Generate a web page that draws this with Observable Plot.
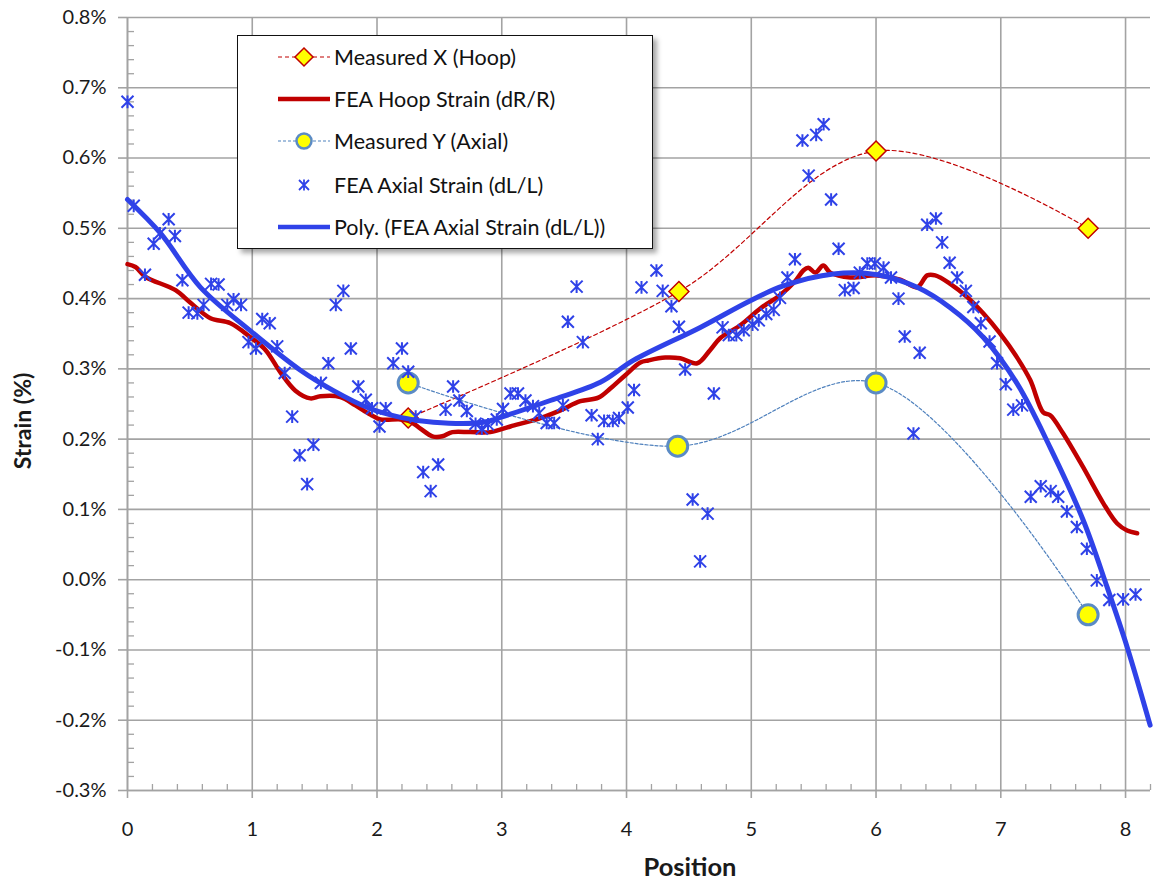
<!DOCTYPE html>
<html>
<head>
<meta charset="utf-8">
<script src="https://cdn.jsdelivr.net/npm/d3@7"></script>
<script src="https://cdn.jsdelivr.net/npm/@observablehq/plot@0.6"></script>
<style>
  body { margin: 0; background: #fff; }
  #wrap { position: relative; width: 1162px; height: 887px; font-family: Lato, "Open Sans", sans-serif; }
  #legend { position: absolute; left: 237px; top: 35px; width: 416px; height: 214px; box-sizing: border-box;
    border: 1.5px solid #111; background: #fff; box-shadow: 4px 4px 5px rgba(0,0,0,0.35); }
  .row { position: absolute; left: 0; height: 30px; display: flex; align-items: center; }
  .row svg { margin-left: 40px; }
  .row span { margin-left: 4px; font-size: 21.5px; color: #111; white-space: nowrap; }
  #ytitle { position: absolute; left: 22px; top: 421px; transform: translate(-50%, -50%) rotate(-90deg);
    font-weight: bold; font-size: 23px; color: #1a1a1a; white-space: nowrap; }
</style>
</head>
<body>
<div id="wrap"></div>
<script>
// Measured points
const hoopMeasX = [2.25, 4.42, 6.0, 7.7];
const hoopMeasY = [0.23, 0.41, 0.61, 0.50];
const axialMeasX = [2.25, 4.41, 6.0, 7.7];
const axialMeasY = [0.28, 0.19, 0.28, -0.05];

// FEA hoop strain line
const hoopX = [0, 0.064, 0.144, 0.385, 0.505, 0.665, 0.825, 0.986, 1.106, 1.226, 1.346, 1.466, 1.546, 1.707, 1.827, 1.947, 2.027, 2.188, 2.268, 2.348, 2.444, 2.524, 2.604, 2.748, 2.909, 3.069, 3.309, 3.470, 3.630, 3.774, 3.870, 3.990, 4.111, 4.175, 4.311, 4.431, 4.567, 4.671, 4.752, 4.912, 5.072, 5.232, 5.353, 5.417, 5.457, 5.513, 5.577, 5.633, 5.793, 6.010, 6.194, 6.330, 6.410, 6.474, 6.595, 6.731, 6.859, 6.995, 7.131, 7.236, 7.340, 7.396, 7.500, 7.660, 7.821, 7.933, 8.013, 8.093];
const hoopY = [0.449, 0.445, 0.431, 0.412, 0.394, 0.372, 0.365, 0.345, 0.327, 0.295, 0.269, 0.258, 0.261, 0.260, 0.248, 0.235, 0.228, 0.228, 0.225, 0.215, 0.204, 0.204, 0.210, 0.210, 0.210, 0.218, 0.230, 0.241, 0.254, 0.259, 0.272, 0.291, 0.309, 0.312, 0.316, 0.315, 0.308, 0.327, 0.344, 0.362, 0.386, 0.405, 0.425, 0.440, 0.444, 0.437, 0.447, 0.437, 0.430, 0.433, 0.427, 0.416, 0.433, 0.433, 0.421, 0.402, 0.379, 0.350, 0.316, 0.284, 0.238, 0.234, 0.208, 0.160, 0.109, 0.080, 0.070, 0.066];

// Polynomial trend of FEA axial strain
const polyX = [0, 0.264, 0.585, 0.986, 1.386, 1.651, 1.923, 2.188, 2.452, 2.853, 2.989, 3.389, 3.790, 4.054, 4.591, 4.992, 5.256, 5.657, 6.010, 6.330, 6.595, 6.859, 7.131, 7.396, 7.660, 7.853, 8.013, 8.197];
const polyY = [0.541, 0.493, 0.416, 0.354, 0.298, 0.269, 0.245, 0.231, 0.224, 0.224, 0.231, 0.255, 0.281, 0.312, 0.359, 0.397, 0.418, 0.435, 0.434, 0.416, 0.387, 0.345, 0.279, 0.188, 0.085, -0.011, -0.096, -0.207];

// FEA axial strain scatter
const axialX = [0.00, 0.05, 0.14, 0.21, 0.26, 0.33, 0.38, 0.44, 0.49, 0.56, 0.61, 0.67, 0.73, 0.80, 0.85, 0.91, 0.97, 1.03, 1.08, 1.14, 1.20, 1.26, 1.32, 1.38, 1.44, 1.49, 1.55, 1.61, 1.67, 1.73, 1.79, 1.85, 1.91, 1.96, 2.02, 2.07, 2.13, 2.20, 2.25, 2.31, 2.37, 2.43, 2.49, 2.55, 2.61, 2.66, 2.72, 2.79, 2.84, 2.89, 2.96, 3.01, 3.07, 3.13, 3.19, 3.25, 3.30, 3.36, 3.42, 3.49, 3.53, 3.60, 3.65, 3.72, 3.77, 3.82, 3.89, 3.94, 4.01, 4.06, 4.12, 4.24, 4.29, 4.36, 4.42, 4.47, 4.53, 4.59, 4.65, 4.70, 4.77, 4.82, 4.88, 4.94, 5.01, 5.06, 5.12, 5.18, 5.23, 5.29, 5.35, 5.41, 5.46, 5.52, 5.58, 5.64, 5.70, 5.75, 5.82, 5.87, 5.93, 5.99, 6.06, 6.12, 6.18, 6.23, 6.30, 6.35, 6.41, 6.48, 6.53, 6.59, 6.65, 6.72, 6.78, 6.84, 6.91, 6.97, 7.04, 7.10, 7.17, 7.24, 7.32, 7.40, 7.46, 7.53, 7.61, 7.69, 7.77, 7.87, 7.98, 8.08];
const axialY = [0.680, 0.532, 0.434, 0.478, 0.493, 0.513, 0.489, 0.426, 0.380, 0.379, 0.391, 0.421, 0.420, 0.391, 0.399, 0.391, 0.338, 0.329, 0.371, 0.365, 0.332, 0.294, 0.232, 0.177, 0.136, 0.192, 0.280, 0.308, 0.391, 0.411, 0.329, 0.275, 0.256, 0.244, 0.218, 0.244, 0.308, 0.329, 0.296, 0.232, 0.153, 0.126, 0.164, 0.242, 0.275, 0.255, 0.240, 0.222, 0.215, 0.221, 0.228, 0.243, 0.265, 0.265, 0.255, 0.247, 0.237, 0.223, 0.223, 0.248, 0.367, 0.417, 0.338, 0.234, 0.200, 0.226, 0.226, 0.230, 0.245, 0.270, 0.416, 0.440, 0.411, 0.389, 0.360, 0.299, 0.114, 0.026, 0.094, 0.265, 0.359, 0.348, 0.348, 0.355, 0.363, 0.369, 0.378, 0.384, 0.401, 0.430, 0.456, 0.625, 0.575, 0.633, 0.648, 0.541, 0.471, 0.412, 0.415, 0.437, 0.450, 0.450, 0.444, 0.430, 0.400, 0.346, 0.208, 0.323, 0.505, 0.514, 0.480, 0.451, 0.430, 0.411, 0.388, 0.365, 0.339, 0.308, 0.278, 0.242, 0.248, 0.118, 0.133, 0.126, 0.118, 0.097, 0.075, 0.044, -0.001, -0.029, -0.028, -0.021];

// Tick values
const xTicks = [0, 1, 2, 3, 4, 5, 6, 7, 8];
const xMinor = [0.2, 0.4, 0.6, 0.8, 1.2, 1.4, 1.6, 1.8, 2.2, 2.4, 2.6, 2.8, 3.2, 3.4, 3.6, 3.8, 4.2, 4.4, 4.6, 4.8, 5.2, 5.4, 5.6, 5.8, 6.2, 6.4, 6.6, 6.8, 7.2, 7.4, 7.6, 7.8, 8.2];
const yTicks = [-0.3, -0.2, -0.1, 0.0, 0.1, 0.2, 0.3, 0.4, 0.5, 0.6, 0.7, 0.8];
const yMinor = d3.range(-15, 41).filter(i => i % 5 !== 0).map(i => i / 50);
const labels = {x: "Position", y: "Strain (%)"};
const legendLabels = ["Measured X (Hoop)", "FEA Hoop Strain (dR/R)", "Measured Y (Axial)", "FEA Axial Strain (dL/L)", "Poly. (FEA Axial Strain (dL/L))"];

const zip = (xs, ys) => xs.map((x, i) => ({x, y: ys[i]}));
const hoopMeas = zip(hoopMeasX, hoopMeasY);
const axialMeas = zip(axialMeasX, axialMeasY);
const hoop = zip(hoopX, hoopY);
const poly = zip(polyX, polyY);
const axial = zip(axialX, axialY);

const RED = "#C00000", BLUE = "#2F42E8", LBLUE = "#4F81BD", GRID = "#a3a3a3";
const asterisk = {
  draw(ctx, size) {
    const r = Math.sqrt(size / Math.PI);
    ctx.moveTo(-r, -r); ctx.lineTo(r, r);
    ctx.moveTo(-r, r); ctx.lineTo(r, -r);
    ctx.moveTo(0, -r * 1.05); ctx.lineTo(0, r * 1.05);
  }
};
const fmtY = d => d.toFixed(1) + "%";

const W = 1162, H = 887, mL = 127, mR = 12, mT = 17, mB = 97;
const plotW = W - mL - mR, plotH = H - mT - mB;

const chart = Plot.plot({
  width: W, height: H,
  marginLeft: mL, marginRight: mR, marginTop: mT, marginBottom: mB,
  style: {fontFamily: "Lato, 'Open Sans', sans-serif", background: "#fff", color: "#222"},
  x: {domain: [0, 8.2]},
  y: {domain: [-0.3, 0.8]},
  marks: [
    Plot.gridX(xTicks, {stroke: GRID, strokeOpacity: 1, strokeWidth: 1.6}),
    Plot.gridY(yTicks, {stroke: GRID, strokeOpacity: 1, strokeWidth: 1.6}),
    Plot.ruleX([0], {stroke: GRID, strokeWidth: 1.6}),
    Plot.ruleY([-0.3], {stroke: GRID, strokeWidth: 1.6}),
    Plot.tickY(yMinor, {y: d => d, stroke: GRID, strokeWidth: 1.3, insetRight: plotW - 7}),
    Plot.tickX(xMinor, {x: d => d, stroke: GRID, strokeWidth: 1.3, insetTop: plotH - 6}),
    Plot.axisY(yTicks, {tickSize: 9, tickPadding: 12, tickFormat: fmtY, fontSize: 20, stroke: GRID, strokeWidth: 1.6, fill: "#1a1a1a", label: null}),
    Plot.axisX(xTicks, {tickSize: 8, tickPadding: 23, tickFormat: d => String(d), fontSize: 20, stroke: GRID, strokeWidth: 1.6, fill: "#1a1a1a", label: null}),
    Plot.text([labels.x], {text: d => d, frameAnchor: "bottom", dx: 51, dy: 85, fontSize: 25.5, fontWeight: "bold", fill: "#1a1a1a"}),
    // Measured X (Hoop)
    Plot.line(hoopMeas, {x: "x", y: "y", curve: "catmull-rom", stroke: RED, strokeWidth: 1.2, strokeDasharray: "4,3"}),
    Plot.dot(hoopMeas, {x: "x", y: "y", symbol: "diamond2", r: 9, fill: "#FFFF00", stroke: RED, strokeWidth: 1.5}),
    // FEA Hoop
    Plot.line(hoop, {x: "x", y: "y", stroke: RED, strokeWidth: 4.5, curve: "catmull-rom"}),
    // Measured Y (Axial)
    Plot.line(axialMeas, {x: "x", y: "y", curve: "catmull-rom", stroke: LBLUE, strokeWidth: 1.2, strokeDasharray: "3,2"}),
    Plot.dot(axialMeas, {x: "x", y: "y", r: 10, fill: "#FFFF00", stroke: "#5B8BC5", strokeWidth: 3}),
    // FEA Axial scatter
    Plot.dot(axial, {x: "x", y: "y", symbol: asterisk, r: 6, fill: "none", stroke: BLUE, strokeWidth: 2}),
    // Poly trend
    Plot.line(poly, {x: "x", y: "y", stroke: BLUE, strokeWidth: 5, curve: "catmull-rom"})
  ]
});

const wrap = document.getElementById("wrap");
wrap.appendChild(chart);

// Y axis title
const yt = document.createElement("div");
yt.id = "ytitle";
yt.textContent = labels.y;
wrap.appendChild(yt);

// Legend (inside the plot area, like the original)
const legend = document.createElement("div");
legend.id = "legend";
const rowTops = [6, 48, 90, 134, 176];
const symbols = [
  `<line x1="0" y1="15" x2="52" y2="15" stroke="${RED}" stroke-width="1.2" stroke-dasharray="4,3"/><path d="M26,6 L35,15 L26,24 L17,15 Z" fill="#FFFF00" stroke="${RED}" stroke-width="1.5"/>`,
  `<line x1="0" y1="15" x2="52" y2="15" stroke="${RED}" stroke-width="4.5"/>`,
  `<line x1="0" y1="15" x2="52" y2="15" stroke="${LBLUE}" stroke-width="1.2" stroke-dasharray="3,2"/><circle cx="26" cy="15" r="7.5" fill="#FFFF00" stroke="#5B8BC5" stroke-width="2.5"/>`,
  `<path d="M21,10 L31,20 M21,20 L31,10 M26,9.5 L26,20.5" stroke="${BLUE}" stroke-width="1.8" fill="none"/>`,
  `<line x1="0" y1="15" x2="52" y2="15" stroke="${BLUE}" stroke-width="4.5"/>`
];
legendLabels.forEach((lab, i) => {
  const row = document.createElement("div");
  row.className = "row";
  row.style.top = rowTops[i] + "px";
  row.innerHTML = `<svg width="52" height="30">${symbols[i]}</svg><span>${lab}</span>`;
  legend.appendChild(row);
});
wrap.appendChild(legend);
</script>
</body>
</html>
